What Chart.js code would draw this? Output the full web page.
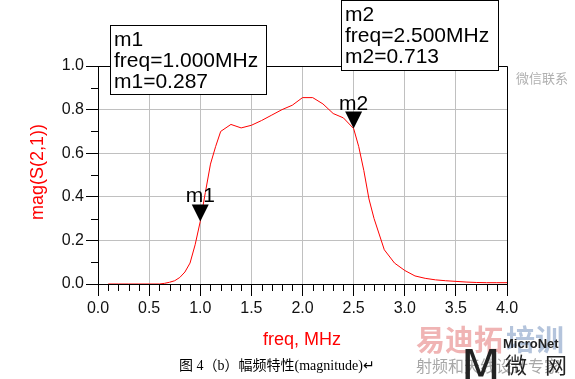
<!DOCTYPE html>
<html>
<head>
<meta charset="utf-8">
<script src="https://cdn.jsdelivr.net/npm/chart.js@4"></script>
<style>
  html, body { margin: 0; padding: 0; background: #ffffff; }
  #s21 { display: block; }
</style>
</head>
<body>
<canvas id="s21" width="575" height="379"></canvas>
<script>
// frequency points (MHz) and |S21|
const freq = [0.1, 0.2, 0.3, 0.4, 0.5, 0.6, 0.65, 0.7, 0.75, 0.8, 0.85, 0.9, 0.95, 1.0,
  1.05, 1.1, 1.15, 1.2, 1.3, 1.4, 1.5, 1.6, 1.7, 1.8, 1.9, 2.0, 2.1, 2.2, 2.3, 2.4, 2.5,
  2.55, 2.6, 2.65, 2.7, 2.8, 2.9, 3.0, 3.1, 3.2, 3.3, 3.4, 3.5, 3.6, 3.7, 3.8, 3.9, 4.0];
const mag = [0, 0, 0, 0, 0, 0, 0.003, 0.008, 0.015, 0.03, 0.055, 0.096, 0.18, 0.287,
  0.42, 0.55, 0.63, 0.70, 0.732, 0.716, 0.728, 0.75, 0.775, 0.80, 0.82, 0.855, 0.855, 0.826, 0.782, 0.762, 0.713,
  0.63, 0.52, 0.39, 0.30, 0.157, 0.096, 0.062, 0.037, 0.026, 0.019, 0.015, 0.012, 0.009, 0.007, 0.006, 0.006, 0.006];

const xTicks = [0, 0.5, 1.0, 1.5, 2.0, 2.5, 3.0, 3.5, 4.0];
const yTicks = [0, 0.2, 0.4, 0.6, 0.8, 1.0];

const markers = [
  { name: 'm1', f: 1.0, v: 0.287 },
  { name: 'm2', f: 2.5, v: 0.713 }
];

const pts = freq.map((f, i) => ({ x: f, y: mag[i] }));

// markers, readout boxes, minor ticks, titles
const extras = {
  id: 'extras',
  afterDraw(chart) {
    const c = chart.ctx;
    const a = chart.chartArea;
    const xs = chart.scales.x, ys = chart.scales.y;
    c.save();

    // frame top/right
    c.strokeStyle = '#000';
    c.lineWidth = 1;
    c.beginPath();
    c.moveTo(a.left, a.top + 0.5);
    c.lineTo(a.right + 0.5, a.top + 0.5);
    c.lineTo(a.right + 0.5, a.bottom);
    c.stroke();

    // minor ticks
    c.beginPath();
    for (let i = 1; i < 40; i++) {
      if (i % 5 === 0) continue;
      const px = Math.round(xs.getPixelForValue(i / 10)) + 0.5;
      c.moveTo(px, a.bottom);
      c.lineTo(px, a.bottom + 7);
    }
    for (let i = 1; i < 10; i++) {
      if (i % 2 === 0) continue;
      const py = Math.round(ys.getPixelForValue(i / 10)) + 0.5;
      c.moveTo(a.left - 7, py);
      c.lineTo(a.left, py);
    }
    c.stroke();

    // marker triangles
    c.fillStyle = '#000';
    c.font = '21px Arial';
    c.textAlign = 'center';
    c.textBaseline = 'alphabetic';
    markers.forEach(m => {
      const px = xs.getPixelForValue(m.f);
      const py = ys.getPixelForValue(m.v);
      c.beginPath();
      c.moveTo(px, py);
      c.lineTo(px - 8.5, py - 17);
      c.lineTo(px + 8.5, py - 17);
      c.closePath();
      c.fill();
      c.fillText(m.name, px, py - 19);
    });

    // readout boxes
    const boxes = [
      { x: 110, y: 25, w: 156, h: 69, m: markers[0] },
      { x: 341, y: 0, w: 157, h: 70, m: markers[1] }
    ];
    c.textAlign = 'left';
    boxes.forEach(b => {
      c.fillStyle = '#fff';
      c.fillRect(b.x, b.y, b.w, b.h);
      c.strokeStyle = '#000';
      c.strokeRect(b.x + 0.5, b.y + 0.5, b.w, b.h);
      c.fillStyle = '#000';
      const lines = [b.m.name, 'freq=' + b.m.f.toFixed(3) + 'MHz', b.m.name + '=' + b.m.v.toFixed(3)];
      lines.forEach((t, i) => c.fillText(t, b.x + 4, b.y + 20.5 + i * 21));
    });

    // axis titles
    c.fillStyle = '#ff0000';
    c.font = '18px Arial';
    c.textAlign = 'center';
    c.textBaseline = 'middle';
    c.fillText('freq, MHz', 302, 340);
    c.save();
    c.translate(38, 172);
    c.rotate(-Math.PI / 2);
    c.fillText('mag(S(2,1))', 0, 0);
    c.restore();

    // caption
    c.fillStyle = '#000';
    c.font = '14px "Liberation Serif", "Noto Sans CJK SC", serif';
    c.fillText('图 4（b）幅频特性(magnitude)↵', 277, 366);

    // watermarks
    c.fillStyle = '#b0b0b0';
    c.font = '13px "Noto Sans CJK SC"';
    c.fillText('微信联系', 542, 78);
    c.textAlign = 'left';
    c.font = 'bold 29px "Noto Sans CJK SC"';
    c.fillStyle = '#f0b4b4';
    c.fillText('易迪拓', 416, 340);
    c.fillStyle = '#b4c4dc';
    c.fillText('培训', 506, 340);
    c.fillStyle = '#a8a8a8';
    c.font = '16px "Noto Sans CJK SC"';
    c.fillText('射频和天线设计专家', 416, 366);
    c.fillStyle = '#222';
    c.font = 'bold 13px Arial';
    c.fillText('MicroNet', 503, 344);
    c.font = '22px "Noto Sans CJK SC"';
    c.fillText('微', 505, 365);
    c.fillText('网', 545, 365);
    c.font = '46px "DejaVu Sans"';
    c.fillText('M', 461, 371);
    c.restore();
  }
};

new Chart(document.getElementById('s21'), {
  type: 'scatter',
  data: {
    datasets: [{
      data: pts,
      showLine: true,
      borderColor: '#ff0000',
      borderWidth: 1,
      pointRadius: 0,
      tension: 0
    }]
  },
  options: {
    responsive: false,
    animation: false,
    layout: { padding: { top: 66, right: 68, left: 0, bottom: 0 } },
    plugins: {
      legend: { display: false },
      tooltip: { enabled: false }
    },
    scales: {
      x: {
        type: 'linear',
        min: 0,
        max: 4,
        afterFit(s) { s.height = 95; },
        afterBuildTicks(s) { s.ticks = xTicks.map(v => ({ value: v })); },
        ticks: {
          color: '#111',
          font: { family: 'Arial', size: 16 },
          padding: 3,
          maxRotation: 0,
          callback: v => v.toFixed(1)
        },
        grid: { color: '#c0c0c0', lineWidth: 1, tickColor: '#000', tickLength: 12 },
        border: { color: '#000', width: 1 }
      },
      y: {
        min: 0,
        max: 1,
        afterFit(s) { s.width = 98; },
        afterBuildTicks(s) { s.ticks = yTicks.map(v => ({ value: v })); },
        ticks: {
          color: '#111',
          font: { family: 'Arial', size: 16 },
          padding: 2,
          callback: v => v.toFixed(1)
        },
        grid: { color: '#c0c0c0', lineWidth: 1, tickColor: '#000', tickLength: 12 },
        border: { color: '#000', width: 1 }
      }
    }
  },
  plugins: [extras]
});
</script>
</body>
</html>
